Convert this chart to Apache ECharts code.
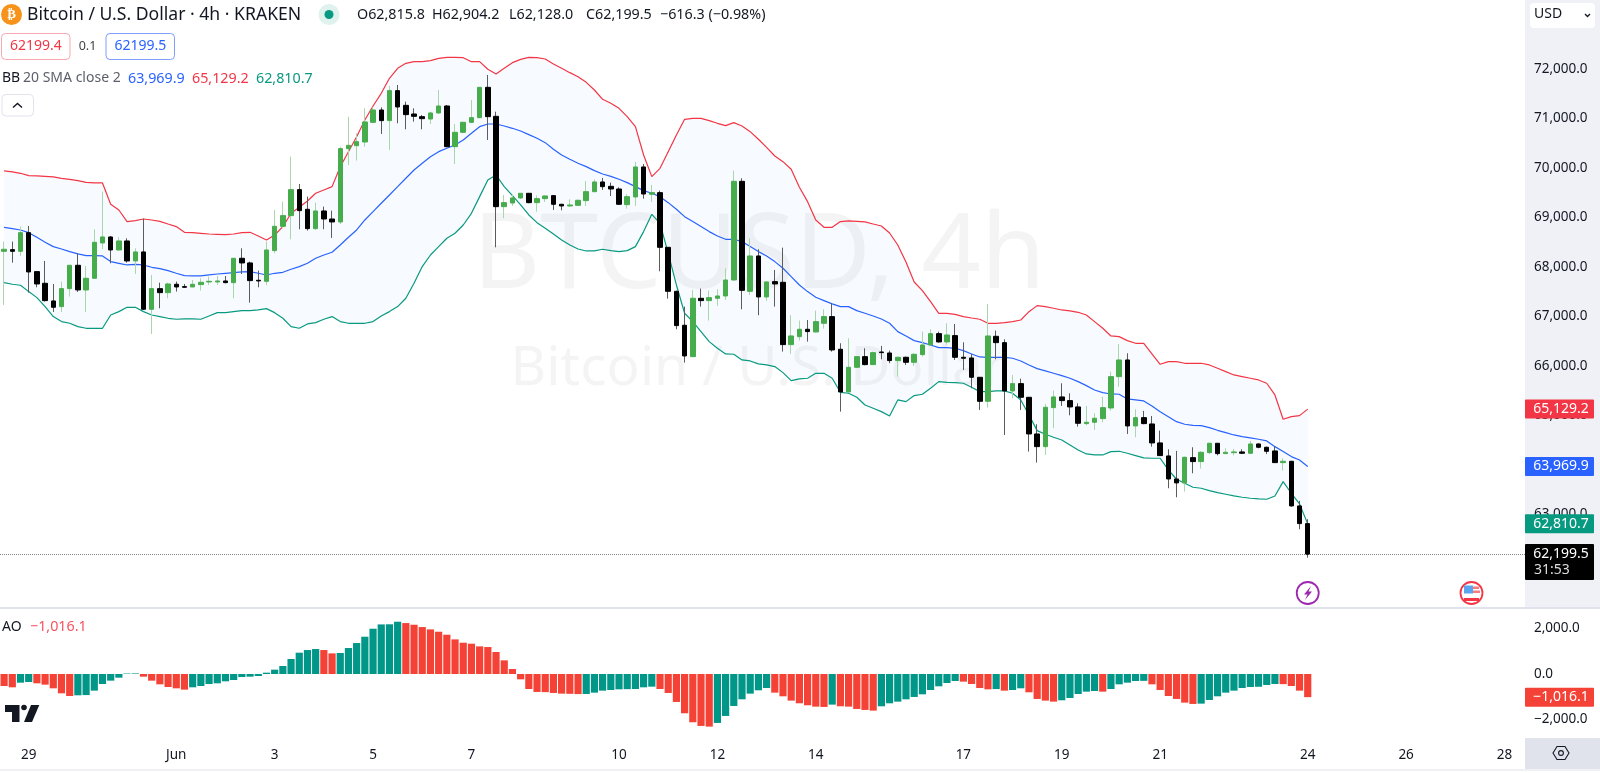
<!DOCTYPE html>
<html>
<head>
<meta charset="utf-8">
<style>html,body{margin:0;padding:0;background:#fff}#c{width:1600px;height:773px}</style>
<script src="https://cdn.jsdelivr.net/npm/echarts@6/dist/echarts.min.js"></script>
</head>
<body>
<div id="c"></div>
<script>
const opens=[68317,68351,68317,68694,67907,67671,67314,67200,67563,68035,
67536,67772,68486,68607,68344,68526,68122,68304,67146,67563,
67482,67651,67604,67597,67644,67698,67698,67718,67684,68176,
68082,67732,67711,68331,68822,69038,69563,69166,68775,69132,
68970,68910,70391,70451,70525,70923,71172,70957,71563,71266,
71091,71037,70990,71112,71253,70431,70721,70923,71017,71630,
71044,69219,69293,69395,69489,69300,69381,69442,69267,69233,
69246,69341,69522,69718,69630,69576,69260,69415,70021,69469,
69502,68398,67509,66823,66190,67368,67321,67368,67415,67738,
69731,67509,68223,67395,67705,67691,66432,66593,66742,66688,
66863,66998,66338,65476,65974,66189,66028,66283,66263,66109,
66176,66075,66230,66425,66654,66486,66614,66176,66162,65772,
65287,66600,66472,65496,65644,65368,64627,64371,65159,65375,
65301,65173,64836,64863,64937,65152,65785,66122,64789,64957,
64829,64446,64183,63718,63638,64149,64069,64250,64439,64230,
64250,64264,64237,64425,64358,64284,64048,64075,63173,62815.8];
const closes=[68358,68317,68694,67900,67657,67321,67186,67563,68035,67536,
67772,68499,68607,68344,68526,68122,68304,67146,67563,67482,
67657,67597,67590,67651,67691,67711,67718,67684,68176,68082,
67725,67718,68344,68822,69038,69563,69139,68775,69132,68970,
68910,70391,70458,70532,70930,71172,70957,71563,71233,71078,
71044,70997,71112,71253,70431,70721,70923,71017,71630,71037,
69219,69300,69395,69489,69300,69381,69435,69267,69233,69253,
69347,69522,69718,69623,69576,69267,69421,70021,69475,69502,
68398,67509,66816,66203,67368,67321,67381,67415,67738,69731,
67529,68223,67395,67698,67657,66432,66607,66742,66695,66897,
66998,66324,65476,65974,66189,66028,66270,66270,66109,66176,
66075,66237,66425,66654,66486,66627,66176,66156,65772,65287,
66607,66472,65496,65644,65368,64627,64371,65166,65375,65301,
65173,64843,64863,64944,65159,65785,66122,64789,64957,64836,
64446,64190,63718,63638,64156,64069,64257,64439,64230,64257,
64264,64237,64425,64358,64277,64048,64075,63173,62816,62199.5];
const highs=[68513,68513,68816,68829,67907,68122,67657,67705,68035,68277,
68021,68762,69523,68627,68600,68580,68378,68977,67839,67684,
67684,67705,67657,67738,67772,67806,67819,67819,68176,68378,
68109,67927,68513,69152,69321,70229,69677,69422,69300,69220,
69139,70431,71037,70701,71206,71226,71226,71657,71677,71340,
71206,71071,71138,71576,71273,70889,70936,71374,71630,71879,
71138,69455,69462,69489,69489,69448,69448,69442,69274,69368,
69368,69738,69772,69799,69704,69610,69475,70122,70081,69657,
69543,68398,67522,67200,67536,67563,67523,67550,67974,69947,
69792,68580,68358,67705,67940,68391,67025,66917,66930,67119,
67146,67267,66459,66560,66189,66358,66290,66405,66311,66189,
66189,66257,66694,66742,66694,66863,66849,66479,66243,65772,
67253,66715,66540,65819,65745,65368,64823,65233,65503,65651,
65449,65247,65193,65045,65381,65886,66445,66257,65126,65092,
64991,64695,64318,64284,64170,64358,64277,64452,64439,64338,
64324,64317,64486,64439,64371,64385,64136,64082,63274,62904.2];
const lows=[67233,68088,68223,67482,67590,67301,67092,67092,67402,67496,
67092,67772,68358,68075,68331,68088,67859,67132,66648,67166,
67368,67503,67585,67590,67523,67637,67637,67671,67368,67859,
67280,67590,67631,68277,68782,68560,68762,68735,68748,68762,
68587,68869,70061,70149,70431,70903,70687,70364,70903,70782,
70936,70782,70889,71091,70418,70081,70701,70903,71004,70566,
68398,68984,69233,69374,69287,69118,69314,69152,69145,69219,
69233,69233,69509,69556,69435,69253,69179,69233,69381,69314,
67913,67361,66742,66068,66176,67200,66917,67213,67334,67725,
67146,67435,67025,67314,67200,66291,66244,66513,66493,66675,
66755,66291,65078,65462,65960,66014,66021,66136,66055,65785,
66021,66001,66189,66412,66472,66432,66122,65920,65550,65112,
65159,66136,64607,65348,65112,64271,64048,64203,64742,65193,
65004,64775,64802,64708,64863,65099,65583,64627,64560,64823,
64371,64183,63530,63348,63463,63833,63927,64217,64196,64223,
64196,64223,64223,64338,64223,64041,63887,63159,62702,62128];
const bbUpper=[69940,69920,69893,69846,69839,69832,69819,69792,69772,69745,
69711,69698,69698,69267,69152,68917,68937,68970,68950,68923,
68869,68816,68701,68694,68681,68667,68661,68654,68667,68694,
68701,68627,68546,68647,68816,69085,69206,69334,69489,69556,
69624,70027,70330,70633,70970,71253,71509,71812,72014,72115,
72148,72148,72169,72216,72236,72236,72229,72148,72148,71994,
71899,72014,72128,72195,72236,72229,72202,72101,72014,71926,
71845,71731,71576,71388,71307,71206,71037,70835,70263,69825,
69994,70330,70667,70984,71004,71004,70957,70903,70856,70916,
70849,70734,70580,70418,70243,70128,69974,69610,69320,68950,
68802,68802,68917,68930,68923,68910,68869,68829,68687,68445,
68101,67697,67523,67300,67065,67065,67044,66997,66970,66944,
66863,66863,66876,66896,66930,67098,67220,67199,67166,67132,
67112,67085,67031,66896,66762,66607,66593,66513,66459,66459,
66243,66035,66088,66088,66055,66055,66055,66021,65954,65886,
65819,65785,65752,65718,65651,65415,64924,64977,64998,65129.2];
const bbMiddle=[68802,68775,68748,68694,68600,68499,68412,68364,68311,68264,
68230,68230,68223,68109,68075,68041,68055,68041,67994,67967,
67927,67873,67826,67819,67819,67839,67859,67873,67886,67900,
67907,67873,67839,67873,67893,67954,68008,68075,68176,68243,
68297,68445,68600,68748,68950,69119,69287,69455,69624,69792,
69960,70095,70229,70330,70398,70465,70566,70701,70835,70889,
70889,70849,70802,70748,70674,70600,70512,70378,70263,70176,
70095,70027,69947,69879,69832,69772,69704,69623,69543,69489,
69421,69300,69166,69017,68917,68816,68715,68627,68560,68560,
68513,68412,68311,68223,68109,67974,67806,67637,67503,67388,
67321,67254,67200,67199,67119,67065,67011,66950,66863,66694,
66607,66513,66472,66425,66371,66371,66358,66311,66243,66183,
66176,66176,66176,66156,66102,66021,65947,65900,65853,65806,
65752,65684,65604,65516,65462,65435,65429,65334,65314,65294,
65193,65078,64977,64876,64823,64802,64796,64755,64701,64654,
64607,64573,64547,64520,64486,64371,64271,64170,64102,63969.9];
const bbLower=[67684,67651,67631,67503,67381,67200,66998,66897,66863,66796,
66762,66762,66762,67031,67099,67186,67186,67099,67031,66998,
66964,66944,66951,66951,66944,67011,67078,67078,67099,67119,
67119,67132,67159,67078,66964,66796,66762,66850,66876,66944,
66998,66897,66863,66863,66863,66897,67011,67099,67200,67368,
67671,68008,68243,68412,68580,68681,68849,69085,69422,69758,
69859,69623,69442,69253,69051,68896,68782,68667,68546,68445,
68364,68324,68324,68358,68331,68311,68331,68412,68715,69065,
68883,68277,67637,67065,66897,66695,66493,66358,66244,66237,
66122,66102,66042,66021,65988,65866,65705,65739,65752,65853,
65853,65752,65469,65449,65368,65213,65146,65078,64991,65314,
65280,65402,65429,65550,65684,65671,65664,65651,65570,65482,
65482,65496,65496,65449,65314,65011,64695,64621,64560,64506,
64405,64304,64223,64203,64203,64271,64277,64237,64190,64143,
64136,64136,63900,63712,63631,63550,63530,63483,63442,63409,
63375,63348,63328,63314,63308,63375,63665,63429,63213,62810.7];
const aoValues=[-526,-584,-380,-350,-409,-467,-628,-847,-964,-934,
-925,-730,-438,-292,-161,20,25,-117,-292,-453,
-569,-628,-686,-584,-526,-438,-409,-321,-263,-131,
-117,-88,58,190,350,657,934,1051,1095,1051,
905,920,1139,1358,1635,1986,2175,2180,2292,2234,
2161,2059,1956,1854,1723,1518,1372,1329,1212,1183,
964,599,219,-234,-657,-788,-795,-832,-861,-870,
-880,-876,-818,-730,-701,-672,-665,-657,-584,-555,
-657,-832,-1226,-1723,-2117,-2278,-2307,-2146,-1840,-1402,
-1110,-861,-715,-613,-818,-978,-1168,-1285,-1372,-1431,
-1445,-1343,-1416,-1431,-1533,-1577,-1606,-1416,-1285,-1212,
-1110,-1007,-891,-701,-540,-394,-307,-336,-438,-613,
-672,-660,-730,-701,-628,-803,-1095,-1168,-1212,-1153,
-1051,-876,-774,-745,-774,-657,-453,-380,-307,-300,
-453,-701,-964,-1095,-1256,-1314,-1300,-1139,-978,-818,
-730,-613,-569,-560,-482,-438,-445,-526,-730,-1016.1];

const tickLabels={'05-29 00':'29','06-01 00':'Jun','06-03 00':'3','06-05 00':'5','06-07 00':'7','06-10 00':'10','06-12 00':'12','06-14 00':'14','06-17 00':'17','06-19 00':'19','06-21 00':'21','06-24 00':'24','06-26 00':'26','06-28 00':'28'};
const barCount=186;
const categories=[];
for(let i=0;i<barCount;i++){
  const d=new Date(Date.UTC(2024,4,28,12+4*i));
  const p=n=>String(n).padStart(2,'0');
  categories.push(p(d.getUTCMonth()+1)+'-'+p(d.getUTCDate())+' '+p(d.getUTCHours()));
}
const FONT='"Noto Sans"';
const INK='#131722', UPC='#47AC4C', DOWN='#000000';
const BLUE='#2962FF', RED='#F23645', TEAL='#089981';
const fmt=v=>v.toLocaleString('en-US',{minimumFractionDigits:1,maximumFractionDigits:1}).replace('-','\u2212');

const chart=echarts.init(document.getElementById('c'),null,{renderer:'canvas'});
const wickData=opens.map((o,i)=>[o,closes[i],lows[i],highs[i]]);
const bodyData=opens.map((o,i)=>[o,closes[i],Math.min(o,closes[i]),Math.max(o,closes[i])]);
const bandBase=bbLower.slice();
const bandSpan=bbUpper.map((u,i)=>u-bbLower[i]);
const aoData=aoValues.map((v,i)=>({value:v,itemStyle:{color:(i>0&&v>=aoValues[i-1])?'#009688':'#F44336'}}));
const lineS=(name,data,color)=>({name,type:'line',data,xAxisIndex:0,yAxisIndex:0,symbol:'none',smooth:false,lineStyle:{color,width:1.2},z:3,silent:true});

chart.setOption({
  animation:false,
  backgroundColor:'#ffffff',
  textStyle:{fontFamily:FONT},
  grid:[
    {left:0,width:1525,top:19.5,height:594,containLabel:false},
    {left:0,width:1525,top:605.6,height:136.8,containLabel:false}
  ],
  xAxis:[
    {type:'category',gridIndex:0,data:categories,show:false,boundaryGap:true},
    {type:'category',gridIndex:1,data:categories,boundaryGap:true,
      axisLine:{show:false},axisTick:{show:false},splitLine:{show:false},
      axisLabel:{margin:6,color:INK,fontSize:13.5,fontFamily:FONT,hideOverlap:false,
        interval:(i,v)=>tickLabels[v]!==undefined,
        formatter:v=>tickLabels[v]||''}}
  ],
  yAxis:[
    {type:'value',gridIndex:0,position:'right',min:61000,max:73000,interval:1000,scale:true,
      axisLine:{show:false},axisTick:{show:false},splitLine:{show:false},
      axisLabel:{margin:9,color:INK,fontSize:13.5,fontFamily:FONT,showMinLabel:false,showMaxLabel:false,
        formatter:v=>fmt(v)}},
    {type:'value',gridIndex:1,position:'right',min:-3000,max:3000,interval:1000,
      axisLine:{show:false},axisTick:{show:false},splitLine:{show:false},
      axisLabel:{margin:9,color:INK,fontSize:13.5,fontFamily:FONT,
        formatter:v=>v%2000===0?fmt(v):''}}
  ],
  series:[
    {name:'bandBase',type:'line',data:bandBase,stack:'band',symbol:'none',lineStyle:{width:0,opacity:0},z:1,silent:true},
    {name:'bandSpan',type:'line',data:bandSpan,stack:'band',symbol:'none',lineStyle:{width:0,opacity:0},areaStyle:{color:'rgba(33,150,243,0.05)',origin:'start'},z:1,silent:true},
    lineS('BB Upper',bbUpper,RED),
    lineS('BB Basis',bbMiddle,BLUE),
    lineS('BB Lower',bbLower,TEAL),
    {name:'wicks',type:'candlestick',data:wickData,xAxisIndex:0,yAxisIndex:0,barWidth:1,z:4,silent:true,
      itemStyle:{color:'#A9D6AB',color0:'#5c5c5c',borderColor:'#A9D6AB',borderColor0:'#5c5c5c',borderWidth:1},
      markLine:{silent:true,symbol:'none',label:{show:false},animation:false,
        lineStyle:{color:'#888',type:'dotted',width:1},data:[{yAxis:closes[closes.length-1]}]}},
    {name:'BTCUSD',type:'candlestick',data:bodyData,xAxisIndex:0,yAxisIndex:0,barWidth:5,z:5,silent:true,
      itemStyle:{color:UPC,color0:DOWN,borderColor:UPC,borderColor0:DOWN,borderWidth:1}},
    {name:'AO',type:'bar',data:aoData,xAxisIndex:1,yAxisIndex:1,barWidth:7.2,silent:true,z:3}
  ]
});

const yMain=v=>chart.convertToPixel({yAxisIndex:0},v);
const yAo=v=>chart.convertToPixel({yAxisIndex:1},v);
const xMain=i=>chart.convertToPixel({xAxisIndex:0},i);
const last=closes.length-1;
const tx=(text,x,y,fill,size,extra)=>({type:'text',z:50,style:{text,x,y,fill,font:size+'px '+FONT,verticalAlign:'middle',textAlign:(extra&&extra.align)||'left'}});
const rc=(x,y,w,h,fill,z,extra)=>({type:'rect',z,shape:{x,y,width:w,height:h,r:(extra&&extra.r)||0},style:Object.assign({fill},extra&&extra.style)});
const tag=(val,yc,color)=>[
  rc(1525,yc-9.5,69,19,color,60,{r:1}),
  {type:'text',z:61,style:{text:fmt(val),x:1561,y:yc,fill:'#fff',font:'14px '+FONT,textAlign:'center',verticalAlign:'middle'}}
];
const yClose=yMain(closes[last]);
const graphics=[
  rc(1525,0,75,608,'#EFF1F6',-10),
  rc(0,607,1600,2,'#E0E3EB',-9),
  rc(1525,738,75,31,'#E0E3EB',-9),
  rc(0,769,1600,2,'#EEF0F4',-9),
  {type:'text',z:-8,style:{text:'BTCUSD, 4h',x:759,y:258,fill:'rgba(42,46,57,0.05)',font:'104px '+FONT,textAlign:'center',verticalAlign:'middle'}},
  {type:'text',z:-8,style:{text:'Bitcoin / U.S. Dollar',x:758,y:369,fill:'rgba(42,46,57,0.05)',font:'55px '+FONT,textAlign:'center',verticalAlign:'middle'}},
  {type:'circle',z:50,shape:{cx:11.5,cy:14.5,r:10.5},style:{fill:'#F7931A'}},
  {type:'text',z:51,style:{text:'\u20BF',x:11.5,y:14.5,fill:'#fff',font:'bold 13px "DejaVu Sans"',textAlign:'center',verticalAlign:'middle'}},
  tx('Bitcoin / U.S. Dollar \u00B7 4h \u00B7 KRAKEN',27,14.5,INK,17.6),
  {type:'circle',z:50,shape:{cx:329,cy:14.5,r:10.5},style:{fill:'#DFF2EE'}},
  {type:'circle',z:51,shape:{cx:329,cy:14.5,r:4.5},style:{fill:'#089981'}},
  tx('O62,815.8',357,14.5,INK,14.3),
  tx('H62,904.2',432,14.5,INK,14.3),
  tx('L62,128.0',509,14.5,INK,14.3),
  tx('C62,199.5',586,14.5,INK,14.3),
  tx('\u2212616.3 (\u22120.98%)',660,14.5,INK,14.3),
  rc(1.5,33.5,68.5,26,'#fff',49,{r:4,style:{stroke:'#F7A9AF',lineWidth:1}}),
  tx('62199.4',35.8,46.5,RED,14,{align:'center'}),
  tx('0.1',87.5,46.5,'#444',12.5,{align:'center'}),
  rc(106,33.5,68.5,26,'#fff',49,{r:4,style:{stroke:'#7E9DFF',lineWidth:1}}),
  tx('62199.5',140.3,46.5,BLUE,14,{align:'center'}),
  tx('BB',2,78.5,INK,14),
  tx('20 SMA close 2',23,78.5,'#5D606B',14),
  tx(fmt(bbMiddle[last]),128,78.5,BLUE,14.3),
  tx(fmt(bbUpper[last]),192,78.5,RED,14.3),
  tx(fmt(bbLower[last]),256,78.5,TEAL,14.3),
  rc(2,94.5,31.5,21.5,'#fff',49,{r:4,style:{stroke:'#E0E3EB',lineWidth:1}}),
  {type:'polyline',z:50,shape:{points:[[13,107.5],[17.5,103.5],[22,107.5]]},style:{stroke:INK,fill:null,lineWidth:1.4}},
  tx('AO',2,627,INK,14),
  tx(fmt(aoValues[last]),30,627,'#F7525F',14.3),
  rc(1530,3,65,25,'#fff',49,{r:4}),
  tx('USD',1534,14.5,INK,14),
  {type:'polyline',z:50,shape:{points:[[1585,14],[1587.5,16.5],[1590,14]]},style:{stroke:INK,fill:null,lineWidth:1.3}},
  {type:'circle',z:50,shape:{cx:xMain(last),cy:593,r:11},style:{fill:'#fff',stroke:'#9C27B0',lineWidth:1.8}},
  {type:'polygon',z:51,shape:{points:[[1311,586],[1304,594.5],[1307.5,594.5],[1305,600],[1312,591.5],[1308.5,591.5]]},style:{fill:'#9C27B0'}},
  {type:'circle',z:50,shape:{cx:1471.5,cy:593,r:11},style:{fill:'#fff',stroke:'#F23645',lineWidth:1.8}},
  rc(1464,586.5,15,2.5,'#F77C80',51),
  rc(1466,590.5,14,2.5,'#F77C80',51),
  rc(1464,598,15,3,'#F23645',51),
  rc(1464,585.5,9,8,'#5AA5F0',52),
  {type:'polygon',z:50,shape:{points:[[5,705],[19.5,705],[19.5,722],[12,722],[12,712],[5,712]]},style:{fill:INK}},
  {type:'circle',z:50,shape:{cx:24,cy:707.5,r:2.8},style:{fill:INK}},
  {type:'polygon',z:50,shape:{points:[[31,705],[39.3,705],[32,722],[24,722]]},style:{fill:INK}},
  {type:'polygon',z:50,shape:{points:[[1553,753],[1557,746.5],[1565,746.5],[1569,753],[1565,759.5],[1557,759.5]]},style:{fill:null,stroke:INK,lineWidth:1.1}},
  {type:'circle',z:50,shape:{cx:1561,cy:753,r:2.4},style:{fill:null,stroke:INK,lineWidth:1.1}},
  ...tag(bbUpper[last],yMain(bbUpper[last]),RED),
  ...tag(bbMiddle[last],yMain(bbMiddle[last]),BLUE),
  ...tag(bbLower[last],yMain(bbLower[last]),TEAL),
  rc(1525,yClose-10,69,36,'#000',60,{r:1}),
  {type:'text',z:61,style:{text:fmt(closes[last]),x:1561,y:yClose,fill:'#fff',font:'14px '+FONT,textAlign:'center',verticalAlign:'middle'}},
  {type:'text',z:61,style:{text:'31:53',x:1534,y:yClose+16,fill:'#ddd',font:'14px '+FONT,textAlign:'left',verticalAlign:'middle'}},
  ...tag(aoValues[last],yAo(aoValues[last]),'#F44336')
];
chart.setOption({graphic:{elements:graphics}});
</script>
</body>
</html>
